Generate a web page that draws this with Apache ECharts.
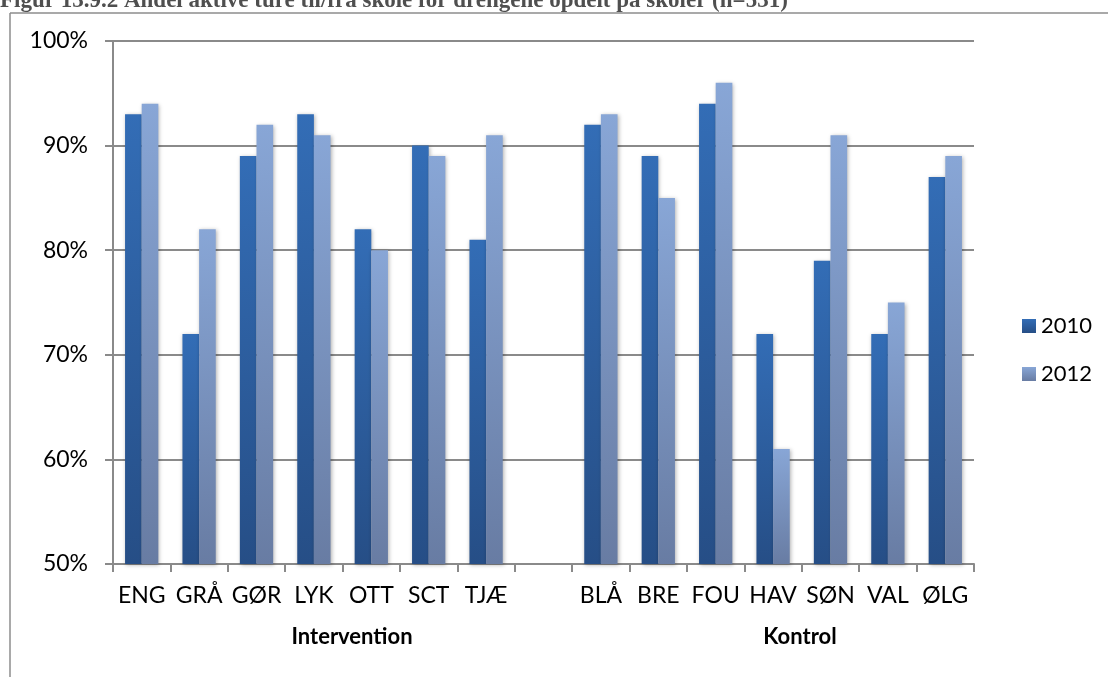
<!DOCTYPE html>
<html>
<head>
<meta charset="utf-8">
<script src="https://cdn.jsdelivr.net/npm/echarts@6/dist/echarts.min.js"></script>
<style>
  html, body { margin: 0; padding: 0; background: #fff; }
  #chart { width: 1108px; height: 677px; }
</style>
</head>
<body>
<div id="chart"></div>
<script>
// schools, blank slot separates the two groups
var schools = ['ENG', 'GRÅ', 'GØR', 'LYK', 'OTT', 'SCT', 'TJÆ', '', 'BLÅ', 'BRE', 'FOU', 'HAV', 'SØN', 'VAL', 'ØLG']
var values2010 = [93, 72, 89, 93, 82, 90, 81, '-', 92, 89, 94, 72, 79, 72, 87]
var values2012 = [94, 82, 92, 91, 80, 89, 91, '-', 93, 85, 96, 61, 91, 75, 89]
var seriesNames = ['2010', '2012']
var groupLabels = ['Intervention', 'Kontrol']
var titleText = 'Figur 13.9.2 Andel aktive ture til/fra skole for drengene opdelt på skoler (n=531)'

var font = 'Lato, "Open Sans", sans-serif'
var gray = '#8a8a8a'

function grad(top, bottom) {
  return new echarts.graphic.LinearGradient(0, 0, 0, 1, [
    { offset: 0, color: top },
    { offset: 1, color: bottom }
  ])
}

var chart = echarts.init(document.getElementById('chart'))

var barShadow = {
  shadowBlur: 4,
  shadowColor: 'rgba(0,0,0,0.3)',
  shadowOffsetX: 1,
  shadowOffsetY: 1
}

chart.setOption({
  animation: false,
  textStyle: { fontFamily: font },
  grid: { left: 113, right: 134, top: 41, bottom: 113 },
  legend: {
    orient: 'vertical',
    left: 1017,
    top: 310,
    itemWidth: 14,
    itemHeight: 14,
    itemGap: 26,
    icon: 'rect',
    textStyle: { fontSize: 22, color: '#000', fontFamily: font },
    data: seriesNames
  },
  xAxis: {
    type: 'category',
    data: schools,
    axisLine: { lineStyle: { color: gray, width: 2 } },
    axisTick: { show: true, length: 8, lineStyle: { color: gray, width: 2 } },
    axisLabel: { fontSize: 23, color: '#000', margin: 20, interval: 0 }
  },
  yAxis: {
    type: 'value',
    min: 50,
    max: 100,
    interval: 10,
    axisLine: { show: true, lineStyle: { color: gray, width: 2 } },
    axisTick: { show: true, length: 8, lineStyle: { color: gray, width: 2 } },
    axisLabel: { fontSize: 23, color: '#000', margin: 25, formatter: '{value}%' },
    splitLine: { lineStyle: { color: gray, width: 2 } }
  },
  series: [
    {
      name: seriesNames[0],
      type: 'bar',
      data: values2010,
      barGap: '0%',
      barCategoryGap: '42%',
      itemStyle: Object.assign({ color: grad('#336db6', '#264e86') }, barShadow)
    },
    {
      name: seriesNames[1],
      type: 'bar',
      data: values2012,
      itemStyle: Object.assign({ color: grad('#88a6d6', '#687ca3') }, barShadow)
    }
  ],
  graphic: [
    {
      type: 'text',
      left: 0,
      top: -10,
      style: {
        text: titleText,
        font: 'bold 23px "Liberation Serif", "DejaVu Serif", serif',
        fill: '#4f4f4f'
      }
    },
    { type: 'line', shape: { x1: 10, y1: 13, x2: 1108, y2: 13 }, style: { stroke: '#8c8c8c', lineWidth: 1.5 } },
    { type: 'line', shape: { x1: 10, y1: 13, x2: 10, y2: 677 }, style: { stroke: '#8c8c8c', lineWidth: 1.5 } },
    {
      type: 'text',
      x: 352,
      y: 637,
      style: {
        text: groupLabels[0],
        font: 'bold 22px ' + font,
        fill: '#000',
        align: 'center',
        verticalAlign: 'middle'
      }
    },
    {
      type: 'text',
      x: 800,
      y: 637,
      style: {
        text: groupLabels[1],
        font: 'bold 22px ' + font,
        fill: '#000',
        align: 'center',
        verticalAlign: 'middle'
      }
    }
  ]
})
</script>
</body>
</html>
